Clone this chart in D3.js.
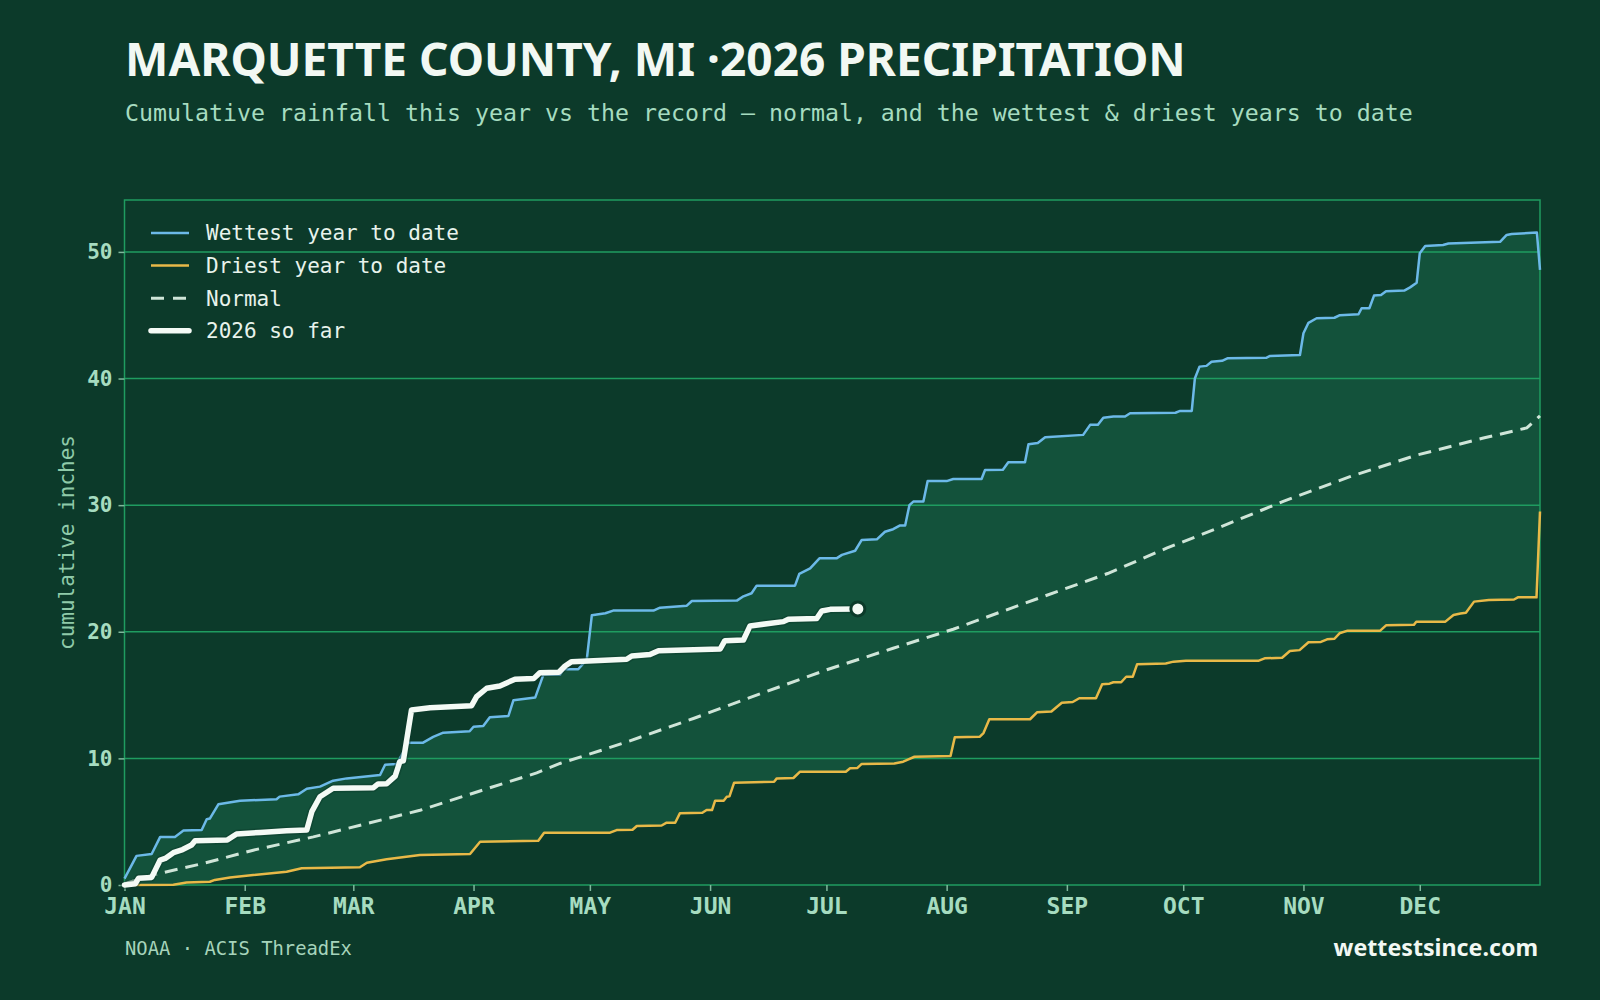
<!DOCTYPE html>
<html>
<head>
<meta charset="utf-8">
<script src="https://cdn.jsdelivr.net/npm/d3@7"></script>
<style>
  html, body { margin: 0; padding: 0; background: #0c3a2a; }
  svg { display: block; }
</style>
</head>
<body>
<script>
// month axis
const monthStarts = [0, 31, 59, 90, 120, 151, 181, 212, 243, 273, 304, 334];
const monthLabels = ["JAN", "FEB", "MAR", "APR", "MAY", "JUN", "JUL", "AUG", "SEP", "OCT", "NOV", "DEC"];
const yTicks = [0, 10, 20, 30, 40, 50];

// [day of year, cumulative inches]
const wettest = [
  [0, 0.5], [3.1, 2.3], [7, 2.45], [9.2, 3.8], [13, 3.8], [15.2, 4.3], [19.9, 4.35], [21.2, 5.2], [22, 5.25],
  [24.2, 6.37], [29.8, 6.66], [39.2, 6.77], [40, 6.98], [44.8, 7.16], [47, 7.6], [50.4, 7.77], [53.8, 8.24],
  [57.3, 8.42], [65.9, 8.69], [67.2, 9.5], [70.2, 9.55], [73.2, 11.24], [77, 11.24], [79.6, 11.7], [82.2, 12.03],
  [89, 12.14], [90, 12.5], [92.5, 12.55], [94.2, 13.25], [99, 13.35], [100.3, 14.6], [105.9, 14.8], [108, 16.6],
  [112.3, 16.6], [113.2, 17.04], [117, 17.04], [119.2, 17.8], [120.5, 21.3], [124, 21.46], [126, 21.67],
  [136.4, 21.67], [138.1, 21.9], [145, 22.06], [146.3, 22.43], [157.9, 22.46], [159.6, 22.8], [161.7, 23.04],
  [163, 23.64], [172.9, 23.64], [174, 24.57], [176.8, 25.0], [179.2, 25.8], [183.6, 25.8], [185, 26.07],
  [188.4, 26.4], [190.1, 27.25], [194, 27.3], [196.1, 27.9], [198.2, 28.1], [200, 28.4], [201.3, 28.4],
  [202.4, 30.0], [203.4, 30.28], [206, 30.28], [207.1, 31.9], [212, 31.9], [213.7, 32.07], [221, 32.07],
  [221.9, 32.78], [226.5, 32.8], [227.9, 33.39], [232.2, 33.39], [233.1, 34.81], [235.5, 34.9], [237.4, 35.36],
  [247.2, 35.55], [249, 36.34], [251, 36.34], [252.4, 36.91], [255, 37.0], [258, 37.0], [259.3, 37.26],
  [271, 37.3], [272.2, 37.44], [275.2, 37.44], [276, 40.0], [277.2, 40.94], [279, 41.0], [280.3, 41.33],
  [283, 41.4], [284.4, 41.6], [294.5, 41.65], [295.4, 41.78], [303.1, 41.86], [304, 43.58], [305.3, 44.4],
  [307.4, 44.76], [312, 44.8], [313.4, 45.0], [318.2, 45.08], [319, 45.55], [321, 45.55], [322.2, 46.55],
  [324, 46.6], [325.3, 46.9], [330, 46.95], [331.5, 47.2], [333.2, 47.57], [334, 49.9], [335.4, 50.47],
  [340, 50.55], [341.4, 50.66], [354.7, 50.8], [356.4, 51.34], [357.7, 51.42], [364.2, 51.53], [365, 48.58]
];

const driest = [
  [0, 0], [12.6, 0.02], [16, 0.2], [22, 0.26], [23.3, 0.4], [27.2, 0.6], [33.2, 0.79], [41.8, 1.05],
  [45.7, 1.32], [60.7, 1.4], [62.5, 1.76], [67.6, 2.03], [76.2, 2.37], [89.1, 2.45], [91.7, 3.42],
  [106.7, 3.5], [108.2, 4.13], [125.2, 4.13], [126.9, 4.34], [131, 4.36], [132.1, 4.66], [138.5, 4.7],
  [139.8, 4.92], [142, 4.92], [143.2, 5.66], [149, 5.7], [150.1, 5.92], [151.5, 5.92], [152.3, 6.66],
  [154.5, 6.66], [155.3, 6.97], [156, 7.0], [157.2, 8.08], [167.5, 8.15], [168.2, 8.42], [172.5, 8.45],
  [174.2, 8.95], [186, 8.95], [187.1, 9.22], [189, 9.25], [190.1, 9.56], [198.5, 9.6], [200.8, 9.74],
  [202, 9.9], [203.7, 10.13], [213, 10.19], [214.1, 11.67], [220.5, 11.7], [221.5, 12.0], [223, 13.09],
  [233.5, 13.09], [235.3, 13.64], [239, 13.7], [241.7, 14.4], [244.5, 14.45], [246.2, 14.75], [250.5, 14.75],
  [252.1, 15.85], [254, 15.9], [255, 16.01], [257, 16.01], [258.3, 16.45], [260, 16.45], [261.1, 17.43],
  [268.5, 17.5], [270.5, 17.64], [273.7, 17.72], [292.5, 17.72], [294, 17.9], [298.5, 17.95], [300.5, 18.48],
  [303, 18.55], [305.3, 19.17], [308.5, 19.2], [310.1, 19.4], [312, 19.45], [313.3, 19.88], [315.4, 20.09],
  [323.8, 20.09], [325.3, 20.51], [332.5, 20.55], [333.1, 20.8], [340.6, 20.8], [342.7, 21.33], [344.5, 21.45],
  [345.9, 21.51], [348, 22.38], [351.8, 22.51], [358.3, 22.55], [359.3, 22.72], [364.1, 22.72], [365, 29.5]
];

const normal = [
  [0, 0.1], [7.4, 0.8], [20.3, 1.7], [33.2, 2.75], [48.7, 3.8], [62.5, 4.85], [76.2, 5.9], [93.4, 7.6],
  [106.3, 8.85], [112.3, 9.6], [122.6, 10.6], [129.5, 11.3], [146.7, 13.15], [163.9, 15.1], [181.1, 17.0],
  [198.2, 18.7], [213.7, 20.2], [232.1, 22.25], [253.5, 24.6], [268.7, 26.6], [281.6, 28.15], [298.8, 30.3],
  [316, 32.25], [333.2, 33.95], [350.4, 35.3], [361.6, 36.1], [365, 37.05]
];

const thisYear = [
  [0, 0], [2.8, 0.1], [3.6, 0.53], [7, 0.6], [9.2, 1.97], [10.5, 2.1], [12.6, 2.55], [15, 2.8], [17.3, 3.16],
  [18.2, 3.5], [26.5, 3.55], [28.9, 4.03], [35, 4.15], [41.8, 4.29], [47, 4.34], [48.3, 5.79], [50.4, 6.97],
  [53.8, 7.64], [64.2, 7.69], [65.4, 7.98], [67.6, 8.0], [69.8, 8.6], [71, 9.74], [71.9, 9.8], [74, 13.82],
  [78.8, 14.0], [89.5, 14.16], [90.8, 14.87], [93.4, 15.54], [96.8, 15.72], [100.7, 16.25], [105.5, 16.3],
  [107.1, 16.77], [112, 16.8], [113.6, 17.3], [115.3, 17.64], [129.5, 17.83], [130.8, 18.09], [135.5, 18.2],
  [137.7, 18.51], [153.6, 18.64], [154.8, 19.3], [159.6, 19.35], [161.3, 20.46], [169.9, 20.8], [171.2, 20.99],
  [178.5, 21.05], [179.8, 21.64], [182, 21.77], [189.1, 21.8]
];

const legendItems = ["Wettest year to date", "Driest year to date", "Normal", "2026 so far"];

const width = 1600;
const height = 1000;
const margin = { top: 200, right: 60, bottom: 115, left: 124.5 };

const bg = "#0c3a2a";
const mint = "#a6dcc0";
const grid = "#1f9c60";
const mono = "'DejaVu Sans Mono', monospace";
const sans = "'Noto Sans', sans-serif";

const svg = d3.select("body").append("svg")
  .attr("width", width)
  .attr("height", height)
  .style("background", bg);

const x = d3.scaleLinear().domain([0, 365]).range([margin.left, width - margin.right]);
const y = d3.scaleLinear().domain([0, 54.1]).range([height - margin.bottom, margin.top]);

const line = d3.line().x(d => x(d[0])).y(d => y(d[1]));

// band between wettest and driest
svg.append("path")
  .attr("d", line(wettest.concat(driest.slice().reverse())) + "Z")
  .attr("fill", "#13523b");

// gridlines
svg.append("g")
  .selectAll("line")
  .data(yTicks.filter(d => d > 0))
  .join("line")
  .attr("x1", x(0)).attr("x2", x(365))
  .attr("y1", d => y(d)).attr("y2", d => y(d))
  .attr("stroke", grid)
  .attr("stroke-width", 1.5);

// frame
svg.append("rect")
  .attr("x", x(0)).attr("y", y.range()[1])
  .attr("width", x(365) - x(0))
  .attr("height", y(0) - y.range()[1])
  .attr("fill", "none")
  .attr("stroke", grid)
  .attr("stroke-width", 1.5);

// axes
const xAxis = d3.axisBottom(x)
  .tickValues(monthStarts)
  .tickFormat((d, i) => monthLabels[i])
  .tickSize(6)
  .tickPadding(7);

const gx = svg.append("g")
  .attr("transform", `translate(0,${y(0)})`)
  .call(xAxis);
gx.select(".domain").remove();
gx.selectAll("line").attr("stroke", "#7fb89c").attr("stroke-width", 1.5);
gx.selectAll("text")
  .attr("fill", mint)
  .style("font-family", mono)
  .style("font-weight", "bold")
  .style("font-size", "23px");

const yAxis = d3.axisLeft(y)
  .tickValues(yTicks)
  .tickSize(6)
  .tickPadding(6);

const gy = svg.append("g")
  .attr("transform", `translate(${x(0)},0)`)
  .call(yAxis);
gy.select(".domain").remove();
gy.selectAll("line").attr("stroke", "#7fb89c").attr("stroke-width", 1.5);
gy.selectAll("text")
  .attr("fill", mint)
  .style("font-family", mono)
  .style("font-weight", "bold")
  .style("font-size", "21px");

svg.append("text")
  .attr("transform", `translate(74,${(y(0) + y.range()[1]) / 2}) rotate(-90)`)
  .attr("text-anchor", "middle")
  .attr("fill", "#8fcaa9")
  .style("font-family", mono)
  .style("font-size", "21px")
  .text("cumulative inches");

// series
svg.append("path")
  .attr("d", line(normal))
  .attr("fill", "none")
  .attr("stroke", "#cfe5d8")
  .attr("stroke-width", 3)
  .attr("stroke-dasharray", "13 8");

svg.append("path")
  .attr("d", line(driest))
  .attr("fill", "none")
  .attr("stroke", "#e8b948")
  .attr("stroke-width", 2.5)
  .attr("stroke-linejoin", "round");

svg.append("path")
  .attr("d", line(wettest))
  .attr("fill", "none")
  .attr("stroke", "#6cb9e8")
  .attr("stroke-width", 2.5)
  .attr("stroke-linejoin", "round");

svg.append("path")
  .attr("d", line(thisYear))
  .attr("fill", "none")
  .attr("stroke", bg)
  .attr("stroke-opacity", 0.45)
  .attr("stroke-width", 8.5)
  .attr("stroke-linejoin", "round")
  .attr("stroke-linecap", "round");

svg.append("path")
  .attr("d", line(thisYear))
  .attr("fill", "none")
  .attr("stroke", "#f4faf5")
  .attr("stroke-width", 5.5)
  .attr("stroke-linejoin", "round")
  .attr("stroke-linecap", "round");

const last = thisYear[thisYear.length - 1];
svg.append("circle")
  .attr("cx", x(last[0]))
  .attr("cy", y(last[1]))
  .attr("r", 7)
  .attr("fill", "#f4faf5")
  .attr("stroke", bg)
  .attr("stroke-width", 3);

// legend
const legendStyles = [
  { stroke: "#6cb9e8", width: 2.5, dash: null },
  { stroke: "#e8b948", width: 2.5, dash: null },
  { stroke: "#cfe5d8", width: 3, dash: "13 9" },
  { stroke: "#f4faf5", width: 5.5, dash: null }
];

const legend = svg.append("g");
legendItems.forEach((label, i) => {
  const ly = 233 + i * 32.6;
  const s = legendStyles[i];
  legend.append("line")
    .attr("x1", 151).attr("x2", 189)
    .attr("y1", ly).attr("y2", ly)
    .attr("stroke", s.stroke)
    .attr("stroke-width", s.width)
    .attr("stroke-linecap", i === 3 ? "round" : "butt")
    .attr("stroke-dasharray", s.dash);
  legend.append("text")
    .attr("x", 206)
    .attr("y", ly)
    .attr("dy", "0.35em")
    .attr("fill", "#e8f3ec")
    .style("font-family", mono)
    .style("font-size", "21px")
    .text(label);
});

// titles
svg.append("text")
  .attr("x", 125)
  .attr("y", 76)
  .attr("fill", "#f2f8f3")
  .style("font-family", sans)
  .style("font-weight", "bold")
  .style("font-size", "46px")
  .text("MARQUETTE COUNTY, MI ·2026 PRECIPITATION");

svg.append("text")
  .attr("x", 125)
  .attr("y", 121)
  .attr("fill", mint)
  .style("font-family", mono)
  .style("font-size", "23.25px")
  .text("Cumulative rainfall this year vs the record — normal, and the wettest & driest years to date");

svg.append("text")
  .attr("x", 125)
  .attr("y", 955)
  .attr("fill", "#a6d4bb")
  .style("font-family", mono)
  .style("font-size", "18.85px")
  .text("NOAA · ACIS ThreadEx");

svg.append("text")
  .attr("x", 1538)
  .attr("y", 956)
  .attr("text-anchor", "end")
  .attr("fill", "#f2f8f3")
  .style("font-family", sans)
  .style("font-weight", "bold")
  .style("font-size", "23.2px")
  .text("wettestsince.com");
</script>
</body>
</html>
